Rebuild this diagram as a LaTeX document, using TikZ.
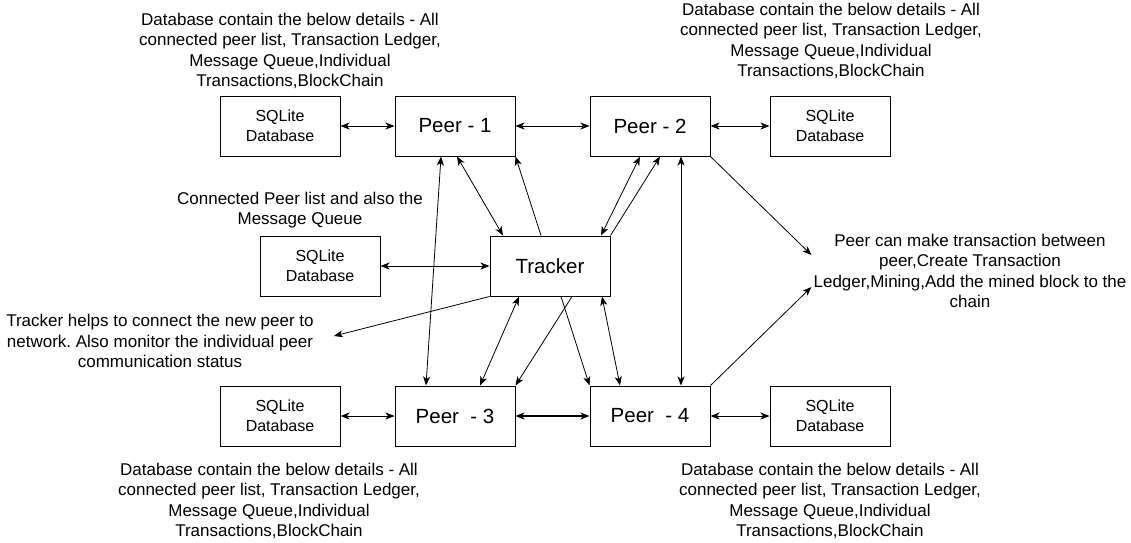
\documentclass[tikz,border=0pt]{standalone}
\usepackage{fontspec}
\setmainfont{Liberation Sans}
\frenchspacing
\usepackage{tikz}
\usetikzlibrary{arrows.meta}
\tikzset{>={Stealth[length=9pt,width=7pt,inset=2.5pt]}}
\tikzset{
	peerbox/.style={draw,line width=1pt,minimum width=120pt,minimum height=60pt,font=\fontsize{20.5}{24}\selectfont},
	dbbox/.style={draw,line width=1pt,minimum width=120pt,minimum height=60pt,align=center,font=\fontsize{16}{20}\selectfont},
	note/.style={align=center,inner sep=0pt,font=\fontsize{17}{20.5}\selectfont},
	link/.style={line width=0.8pt}
}

\begin{document}
\begin{tikzpicture}[x=1pt,y=-1pt]
	\useasboundingbox[fill=white] (0,0) rectangle (1131,542);
	% boxes
	\node[dbbox] (db1) at (280,126) {SQLite\\Database};
	\node[peerbox] (peer1) at (455,126) {Peer - 1};
	\node[peerbox] (peer2) at (650,126) {Peer - 2};
	\node[dbbox] (db2) at (830,126) {SQLite\\Database};
	\node[dbbox] (dbt) at (320,266) {SQLite\\Database};
	\node[peerbox] (tracker) at (550,266) {Tracker};
	\node[dbbox] (db3) at (280,416) {SQLite\\Database};
	\node[peerbox] (peer3) at (455,416) {Peer\ \ - 3};
	\node[peerbox] (peer4) at (650,416) {Peer\ \ - 4};
	\node[dbbox] (db4) at (830,416) {SQLite\\Database};
	% notes
	\node[note] (note1) at (290,51) {Database contain the below details - All\\connected peer list, Transaction Ledger,\\Message Queue,Individual\\Transactions,BlockChain};
	\node[note] (note2) at (831,41) {Database contain the below details - All\\connected peer list, Transaction Ledger,\\Message Queue,Individual\\Transactions,BlockChain};
	\node[note] (note3) at (269,501) {Database contain the below details - All\\connected peer list, Transaction Ledger,\\Message Queue,Individual\\Transactions,BlockChain};
	\node[note] (note4) at (830,501) {Database contain the below details - All\\connected peer list, Transaction Ledger,\\Message Queue,Individual\\Transactions,BlockChain};
	\node[note] (notedbt) at (300,210) {Connected Peer list and also the\\Message Queue};
	\node[note] (notetrk) at (160,341) {Tracker helps to connect the new peer to\\network. Also monitor the individual peer\\communication status};
	\node[note] (notepeer) at (970,271) {Peer can make transaction between\\peer,Create Transaction\\Ledger,Mining,Add the mined block to the\\chain};
	% database links
	\draw[link,<->] (db1) -- (peer1);
	\draw[link,<->] (peer2) -- (db2);
	\draw[link,<->] (dbt) -- (tracker);
	\draw[link,<->] (db3) -- (peer3);
	\draw[link,<->] (peer4) -- (db4);
	% peer links
	\draw[link,<->] (peer1) -- (peer2);
	\draw[line width=1.4pt,<->] (peer3) -- (peer4);
	\draw[link,<->] ([xshift=-14pt]peer1.south) -- ([xshift=-29pt]peer3.north);
	\draw[link,<->] ([xshift=31pt]peer2.south) -- ([xshift=31pt]peer4.north);
	% tracker links
	\draw[link,<->] ([xshift=2pt]peer1.south) -- ([xshift=-47pt]tracker.north);
	\draw[link,->] ([xshift=-9pt]tracker.north) -- (peer1.south east);
	\draw[link,<->] ([xshift=-10pt]peer2.south) -- ([xshift=51pt]tracker.north);
	\draw[link,->] (tracker.north east) -- ([xshift=10pt]peer2.south);
	\draw[link,<->] ([xshift=-31pt]tracker.south) -- ([xshift=25pt]peer3.north);
	\draw[link,->] ([xshift=22pt]tracker.south) -- (peer3.north east);
	\draw[link,->] ([xshift=11pt]tracker.south) -- (peer4.north west);
	\draw[link,<->] ([xshift=52pt]tracker.south) -- ([xshift=-30pt]peer4.north);
	% note pointers
	\draw[link,->] (tracker.south west) -- ([xshift=20pt,yshift=5pt]notetrk.east);
	\draw[link,->] (peer2.south east) -- ([xshift=-2pt,yshift=16pt]notepeer.west);
	\draw[link,->] (peer4.north east) -- ([xshift=-2pt,yshift=-16pt]notepeer.west);
\end{tikzpicture}
\end{document}
